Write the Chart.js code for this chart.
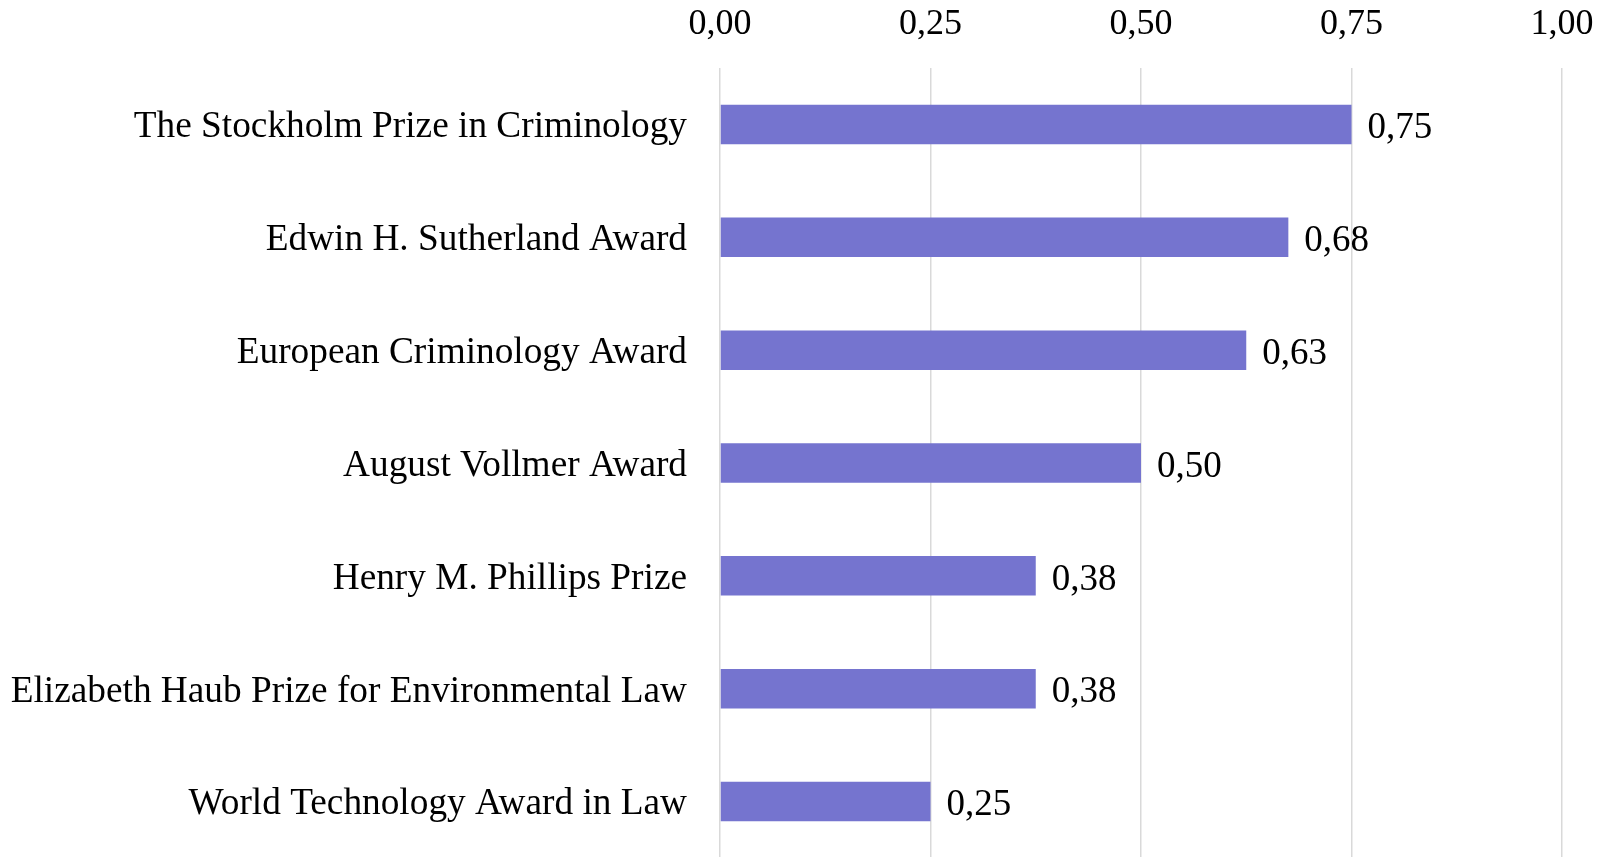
<!DOCTYPE html>
<html>
<head>
<meta charset="utf-8">
<script src="https://cdn.jsdelivr.net/npm/chart.js@4"></script>
<style>
  html, body { margin: 0; padding: 0; background: #fff; overflow: hidden; }
  #wrap { width: 1611px; height: 858px; }
</style>
</head>
<body>
<div id="wrap"><canvas id="chart"></canvas></div>
<script>
const awards = [
  "The Stockholm Prize in Criminology",
  "Edwin H. Sutherland Award",
  "European Criminology Award",
  "August Vollmer Award",
  "Henry M. Phillips Prize",
  "Elizabeth Haub Prize for Environmental Law",
  "World Technology Award in Law",
];
const scores = [0.75, 0.675, 0.625, 0.5, 0.375, 0.375, 0.25];
const xTicks = [0, 0.25, 0.5, 0.75, 1];

const fontFamily = "'Liberation Serif', 'Times New Roman', serif";
const fmt = (v) => v.toFixed(2).replace(".", ",");

// value labels to the right of each bar
const valueLabels = {
  id: "valueLabels",
  afterDatasetsDraw(chart) {
    const ctx = chart.ctx;
    const meta = chart.getDatasetMeta(0);
    ctx.save();
    ctx.font = "37px " + fontFamily;
    ctx.fillStyle = "#000";
    ctx.textAlign = "left";
    ctx.textBaseline = "middle";
    meta.data.forEach((bar, i) => {
      ctx.fillText(fmt(scores[i]), bar.x + 16, bar.y + 4);
    });
    ctx.restore();
  },
};

new Chart(document.getElementById("chart"), {
  type: "bar",
  data: {
    labels: awards,
    datasets: [
      {
        data: scores,
        backgroundColor: "rgb(117, 116, 207)",
        borderWidth: 0,
        barPercentage: 0.35,
        categoryPercentage: 1,
      },
    ],
  },
  options: {
    indexAxis: "y",
    responsive: true,
    maintainAspectRatio: false,
    animation: false,
    layout: { padding: { top: 0, right: 49, bottom: 0, left: 0 } },
    plugins: {
      legend: { display: false },
      tooltip: { enabled: false },
    },
    scales: {
      x: {
        position: "top",
        min: 0,
        max: 1,
        afterBuildTicks: (axis) => {
          axis.ticks = xTicks.map((v) => ({ value: v }));
        },
        afterFit: (axis) => {
          axis.height = 68;
          axis.paddingLeft = 0;
          axis.paddingRight = 0;
        },
        border: { display: false },
        grid: { color: "#d9d9d9", lineWidth: 1.5, drawTicks: false },
        ticks: {
          padding: 22,
          color: "#000",
          font: { family: fontFamily, size: 36 },
          callback: (v) => fmt(v),
        },
      },
      y: {
        afterFit: (axis) => {
          axis.width = 720;
          axis.paddingTop = 0;
          axis.paddingBottom = 0;
        },
        border: { display: false },
        grid: { display: false, drawTicks: false },
        ticks: {
          padding: 33,
          labelOffset: 3,
          color: "#000",
          font: { family: fontFamily, size: 37.3 },
        },
      },
    },
  },
  plugins: [valueLabels],
});
</script>
</body>
</html>
